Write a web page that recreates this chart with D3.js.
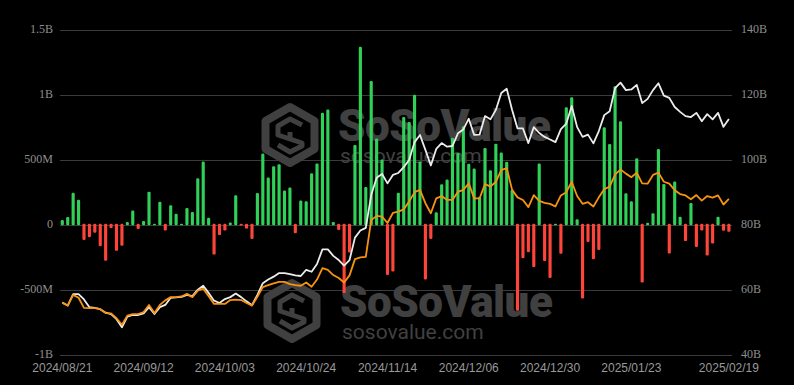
<!DOCTYPE html>
<html>
<head>
<meta charset="utf-8">
<script src="https://cdn.jsdelivr.net/npm/d3@7"></script>
<style>
  body { margin: 0; background: #000; }
  svg { display: block; }
</style>
</head>
<body>
<script>
// trading days shown on the category axis
var tradingDays = [
    ["2024/08", [21,22,23,26,27,28,29,30]],
    ["2024/09", [3,4,5,6,9,10,11,12,13,16,17,18,19,20,23,24,25,26,27,30]],
    ["2024/10", [1,2,3,4,7,8,9,10,11,14,15,16,17,18,21,22,23,24,25,28,29,30,31]],
    ["2024/11", [1,4,5,6,7,8,11,12,13,14,15,18,19,20,21,22,25,26,27,29]],
    ["2024/12", [2,3,4,5,6,9,10,11,12,13,16,17,18,19,20,23,24,26,27,30,31]],
    ["2025/01", [2,3,6,7,8,10,13,14,15,16,17,21,22,23,24,27,28,29,30,31]],
    ["2025/02", [3,4,5,6,7,10,11,12,13,14,18,19]]
];

// daily net inflow, millions USD (left axis)
var netInflow = [
    40, 64, 250, 197, -125, -104, -68, -172, -284, -33,
    -208, -168, 25, 113, -40, 34, 259, 12, 182, -52,
    154, 89, 3, 133, 103, 362, 490, 58, -237, -87,
    -52, 22, 231, -13, -37, -117, 249, 552, 368, 455,
    470, 268, 291, -72, 190, 185, 400, 476, 865, 891,
    26, -48, -533, -220, 618, 1373, 294, 1110, 667, 506,
    -394, -366, 251, 834, 794, 1004, 488, -429, -116, 100,
    316, 352, 674, 556, 762, 474, 436, 218, 595, 423,
    628, 560, 489, 272, -669, -265, -218, -333, 475, -287,
    -416, 10, -230, 908, 985, 46, -575, -140, -273, -201,
    754, 625, 1070, 800, 246, 185, 515, -451, 20, 92,
    586, 318, -228, 337, 66, -133, 172, -179, -51, -244,
    -151, 66, -54, -62
];

// white line, billions USD (right axis)
var totalAssets = [
    56.2, 55.3, 58.8, 58.8, 57.2, 54.8, 54.6, 54.2, 53.1, 52.7,
    51.1, 48.6, 51.9, 52.4, 52.4, 52.9, 54.8, 52.7, 54.8, 55.5,
    57.7, 57.8, 58.0, 58.6, 58.2, 60.2, 61.4, 59.2, 56.8, 56.1,
    57.3, 57.9, 59.0, 57.9, 56.6, 55.4, 58.6, 62.2, 63.3, 64.2,
    65.3, 65.3, 65.0, 64.6, 64.4, 66.3, 65.7, 68.1, 72.6, 72.6,
    70.6, 69.3, 67.6, 69.3, 76.2, 78.4, 79.2, 89.3, 94.6, 95.8,
    92.9, 95.5, 96.1, 97.9, 100.1, 105.6, 107.8, 103.2, 98.4, 103.5,
    105.3, 104.2, 104.4, 108.3, 109.5, 112.8, 107.8, 107.9, 113.6, 112.6,
    115.5, 120.7, 122.0, 115.5, 109.8, 109.8, 105.3, 110.2, 108.4, 107.2,
    106.4, 105.6, 109.6, 111.3, 116.7, 110.2, 107.2, 107.9, 105.2, 109.0,
    113.9, 115.1, 122.2, 123.9, 121.6, 121.8, 123.2, 117.6, 118.9, 121.6,
    123.7, 119.9, 119.2, 116.4, 114.9, 113.6, 113.3, 114.6, 112.0, 114.2,
    112.6, 114.6, 110.3, 112.7
];

// orange line, billions USD (right axis)
var cumInflow = [
    56.2, 55.3, 58.6, 57.7, 54.6, 54.5, 54.5, 54.2, 53.0, 52.9,
    51.4, 49.4, 52.2, 52.7, 52.7, 53.3, 55.5, 53.0, 55.5, 56.9,
    57.9, 57.9, 58.1, 58.9, 57.9, 59.9, 60.5, 58.2, 55.8, 55.8,
    55.8, 57.0, 57.1, 57.0, 56.1, 55.3, 58.0, 61.0, 61.6, 62.1,
    62.6, 62.6, 61.9, 61.6, 61.4, 62.4, 61.1, 63.3, 66.8, 66.3,
    64.7, 63.8, 62.4, 64.6, 69.6, 70.1, 70.3, 81.6, 82.9, 82.7,
    80.7, 83.8, 84.2, 84.9, 87.3, 90.2, 90.9, 86.8, 83.7, 88.3,
    89.0, 87.8, 87.8, 90.3, 90.9, 92.9, 88.3, 88.3, 92.7, 91.9,
    93.4, 97.0, 97.6, 90.9, 88.6, 87.8, 85.6, 89.3, 87.5, 86.9,
    86.6, 85.8, 89.2, 90.2, 93.4, 89.0, 86.6, 87.1, 85.8, 88.6,
    91.1, 91.9, 95.6, 97.2, 95.9, 94.8, 96.2, 92.9, 92.8, 95.5,
    96.2, 93.4, 92.8, 90.8, 89.6, 89.2, 88.0, 89.3, 87.6, 89.0,
    88.5, 89.2, 86.4, 88.1
];

var leftTicks = [-1000, -500, 0, 500, 1000, 1500];
var leftLabels = ["-1B", "-500M", "0", "500M", "1B", "1.5B"];
var rightTicks = [40, 60, 80, 100, 120, 140];
var rightLabels = ["40B", "60B", "80B", "100B", "120B", "140B"];
var tickDates = ["2024/08/21","2024/09/12","2024/10/03","2024/10/24","2024/11/14",
                 "2024/12/06","2024/12/30","2025/01/23","2025/02/19"];

drawChart();

function drawChart(){

    var dates = [];
    tradingDays.forEach(function(m){
        m[1].forEach(function(d){
            dates.push(m[0] + "/" + (d < 10 ? "0" + d : d));
        });
    });

    var width = 794, height = 385;
    var plotLeft = 60, plotRight = 732, plotTop = 30.3, plotBottom = 355.3;

    var svg = d3.select("body").append("svg")
        .attr("width", width)
        .attr("height", height);

    svg.append("rect").attr("width", width).attr("height", height).attr("fill", "#000");

    var x = d3.scaleBand()
        .domain(dates)
        .range([59.6, 731.6])
        .paddingInner(0.42)
        .paddingOuter(0.21);

    var yL = d3.scaleLinear().domain([-1000, 1500]).range([plotBottom, plotTop]);
    var yR = d3.scaleLinear().domain([40, 140]).range([plotBottom, plotTop]);

    //gridlines
    svg.append("g").selectAll("line")
        .data(leftTicks)
        .enter()
        .append("line")
        .attr("x1", plotLeft).attr("x2", plotRight)
        .attr("y1", function(d){ return Math.round(yL(d)) + 0.5; })
        .attr("y2", function(d){ return Math.round(yL(d)) + 0.5; })
        .attr("stroke", "#3b3b3b")
        .attr("stroke-width", 1);

    //watermarks
    function watermark(dx, dy){
        var g = svg.append("g")
            .attr("transform", "translate(" + dx + "," + dy + ")")
            .attr("fill", "#404040")
            .attr("stroke", "#404040");
        var hex = g.append("g").attr("transform", "translate(290,135)");
        hex.append("path")
            .attr("d", "M0,-28 L24.5,-14 L24.5,14 L0,28 L-24.5,14 L-24.5,-14 Z")
            .attr("fill", "none")
            .attr("stroke-width", 8)
            .attr("stroke-linejoin", "round");
        hex.append("path")
            .attr("d", "M12,-10 L0,-16 L-12,-9 L-12,0 L12,8 L12,11 L0,17 L-12,10")
            .attr("fill", "none")
            .attr("stroke-width", 5)
            .attr("stroke-linejoin", "round");
        hex.append("path")
            .attr("d", "M0,-3 L0,5")
            .attr("stroke-width", 5);
        g.append("text")
            .attr("x", 338).attr("y", 141)
            .attr("stroke", "none")
            .style("font-family", "Roboto, sans-serif")
            .style("font-weight", 900)
            .style("font-size", "44px")
            .style("letter-spacing", "-0.5px")
            .text("SoSoValue");
        g.append("text")
            .attr("x", 340).attr("y", 163)
            .attr("stroke", "none")
            .style("font-family", "Roboto, sans-serif")
            .style("font-weight", 400)
            .style("font-size", "21px")
            .text("sosovalue.com");
    }
    watermark(0, 0);
    watermark(2, 176);

    //bars
    svg.append("g").selectAll("rect")
        .data(netInflow)
        .enter()
        .append("rect")
        .attr("x", function(d, i){ return x(dates[i]); })
        .attr("width", x.bandwidth())
        .attr("y", function(d){ return Math.min(yL(d), yL(0) - 1.5); })
        .attr("height", function(d){ return Math.max(Math.abs(yL(d) - yL(0)), 1.5); })
        .attr("rx", 1.2)
        .attr("fill", function(d){ return d >= 0 ? "#30d158" : "#ff453a"; });

    var line = function(values){
        return d3.line()
            .x(function(d, i){ return x(dates[i]) + x.bandwidth() / 2; })
            .y(function(d){ return yR(d); })(values);
    };

    svg.append("path")
        .attr("d", line(totalAssets))
        .attr("fill", "none")
        .attr("stroke", "#ececec")
        .attr("stroke-width", 1.8)
        .attr("stroke-linejoin", "round");

    svg.append("path")
        .attr("d", line(cumInflow))
        .attr("fill", "none")
        .attr("stroke", "#f7930f")
        .attr("stroke-width", 1.8)
        .attr("stroke-linejoin", "round");

    //axes
    var leftAxis = d3.axisLeft(yL)
        .tickValues(leftTicks)
        .tickFormat(function(d, i){ return leftLabels[i]; })
        .tickSize(0)
        .tickPadding(3);
    var rightAxis = d3.axisRight(yR)
        .tickValues(rightTicks)
        .tickFormat(function(d, i){ return rightLabels[i]; })
        .tickSize(0)
        .tickPadding(3);
    var bottomAxis = d3.axisBottom(x)
        .tickValues(tickDates)
        .tickSize(0)
        .tickPadding(8);

    function styleAxis(g, family){
        g.select(".domain").remove();
        g.selectAll("text")
            .attr("fill", "#8e8e8e")
            .style("font-family", family)
            .style("font-size", "12px");
    }

    svg.append("g")
        .attr("transform", "translate(56,0)")
        .call(leftAxis)
        .call(styleAxis, "'Liberation Serif', serif")
        .selectAll("text").attr("dy", "0.22em");

    svg.append("g")
        .attr("transform", "translate(738,0)")
        .call(rightAxis)
        .call(styleAxis, "'Liberation Serif', serif")
        .selectAll("text").attr("dy", "0.22em");

    svg.append("g")
        .attr("transform", "translate(0," + plotBottom + ")")
        .call(bottomAxis)
        .call(styleAxis, "'Liberation Sans', Arial, sans-serif")
        .selectAll("text").attr("fill", "#999");
}
</script>
</body>
</html>
